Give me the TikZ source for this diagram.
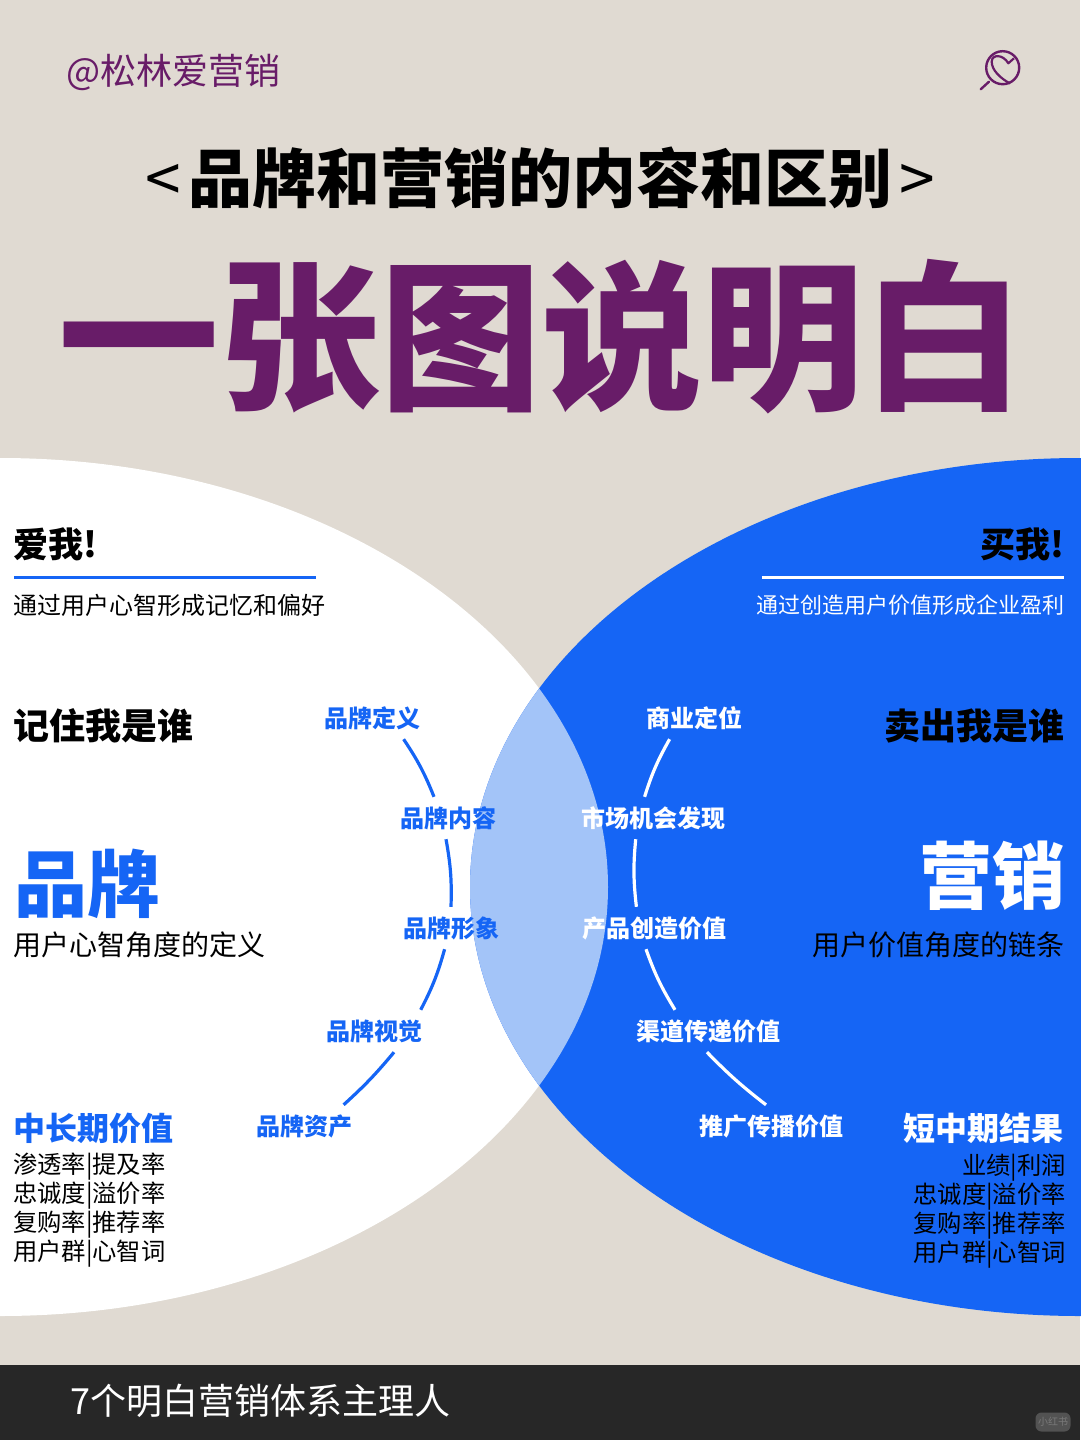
\documentclass[tikz,border=0pt]{standalone}
\usepackage{fontspec}
\setmainfont{Noto Sans CJK SC}
\newfontfamily\heavyfont{Noto Sans CJK SC Black}
\newcommand{\fs}[2][1.15]{\fontsize{#2}{#1\dimexpr #2pt\relax}\selectfont}
\definecolor{paper}{HTML}{E0DAD2}
\definecolor{plum}{HTML}{681C68}
\definecolor{brandblue}{HTML}{1565F5}
\definecolor{paleblue}{HTML}{A3C4F8}
\definecolor{barblack}{HTML}{272727}
\tikzset{
  toleft/.style = {anchor = west, inner sep = 0pt},
  toright/.style = {anchor = east, inner sep = 0pt},
  slogan/.style = {font = \bfseries\fs{35}},
  heading/.style = {font = \bfseries\fs{36}},
  subline/.style = {font = \fs{24}},
  caption/.style = {font = \fs{28}},
  bigword/.style = {font = \bfseries\fs{73}},
  result/.style = {font = \bfseries\fs{32}},
  metrics/.style = {font = \fs[1.19]{24.3}},
  tag/.style = {font = \bfseries\fs{24}, inner sep = 0pt, minimum height = 42pt},
  tagblue/.style = {tag, text = brandblue},
  tagwhite/.style = {tag, text = white},
  linkblue/.style = {draw = brandblue, line width = 3.2pt},
  linkwhite/.style = {draw = white, line width = 3.2pt}
}
\begin{document}
\begin{tikzpicture}[x = 1pt, y = -1pt]
        \useasboundingbox (0, 0) rectangle (1080, 1440);
        \fill[paper] (0, 0) rectangle (1080, 1440);

        % ------------------------------------------------------------------------
        % Header
        \node[toleft, text = plum, font = \fs{36}] at (66, 72) (account) {@松林爱营销};

        \draw[plum, line width = 2.4pt] (1002.7, 67.7) circle (16.5);
        \draw[plum, line width = 2.4pt, line cap = round] (989, 81.7) -- (980.7, 89.3);
        \draw[plum, line width = 2.2pt, line join = round]
          (1014, 58.3) -- (1008.3, 63.3)
          .. controls (1003, 54) and (991.7, 54) .. (991.7, 61.7)
          .. controls (991.7, 70) and (1000, 78) .. (1010, 83.5)
        ;

        \node[font = \bfseries\fs{64}] at (540, 178) (subject) {{\mdseries<}\hspace{7pt}品牌和营销的内容和区别\hspace{7pt}{\mdseries>}};
        \node[text = plum, font = \heavyfont\fs{161}] at (541, 337) (headline) {一张图说明白};

        % ------------------------------------------------------------------------
        % Circles
        \fill[white] (0, 887) ellipse (608 and 429);
        \fill[brandblue] (1080, 887) ellipse (610 and 429);
        \begin{scope}
          \clip (0, 887) ellipse (608 and 429);
          \fill[paleblue] (1080, 887) ellipse (610 and 429);
        \end{scope}

        % ------------------------------------------------------------------------
        % Brand side
        \node[toleft, slogan] at (13, 544) (lovetitle) {爱我!};
        \node[toleft] at (13, 577) (loverulea) {};
        \node[toright] at (317.5, 577) (loveruleb) {};
        \draw[brandblue, line width = 3pt] (loverulea) -- (loveruleb);
        \node[toleft, subline] at (13.5, 605) (lovetext) {通过用户心智形成记忆和偏好};
        \node[toleft, heading] at (13, 726) (remember) {记住我是谁};
        \node[toleft, bigword, text = brandblue] at (14, 884) (brand) {品牌};
        \node[toleft, caption] at (13, 945) (brandtext) {用户心智角度的定义};
        \node[toleft, result, text = brandblue] at (13, 1128) (longterm) {中长期价值};
        \node[toleft, metrics, align = left] at (13, 1210) (brandnums) {渗透率|提及率\\忠诚度|溢价率\\复购率|推荐率\\用户群|心智词};

        \node[tagblue] at (372, 718) (define) {品牌定义};
        \node[tagblue] at (448, 818) (content) {品牌内容};
        \node[tagblue] at (451, 928) (image) {品牌形象};
        \node[tagblue] at (374, 1031) (visual) {品牌视觉};
        \node[tagblue] at (304, 1126) (asset) {品牌资产};

        \draw[linkblue] ([xshift = 31.6pt]define.south) to[bend left = 6] ([xshift = -14pt]content.north);
        \draw[linkblue] ([xshift = -2pt]content.south) to[bend left = 6] (image.north);
        \draw[linkblue] ([xshift = -6.4pt]image.south) to[bend left = 6] ([xshift = 46.7pt]visual.north);
        \draw[linkblue] ([xshift = 20pt]visual.south) to[bend left = 4] ([xshift = 39.6pt]asset.north);

        % ------------------------------------------------------------------------
        % Marketing side
        \node[toright, slogan] at (1065, 544) (buytitle) {买我!};
        \node[toleft] at (760.5, 577) (buyrulea) {};
        \node[toright] at (1065.5, 577) (buyruleb) {};
        \draw[white, line width = 3pt] (buyrulea) -- (buyruleb);
        \node[toright, text = white, font = \fs{22}] at (1065, 605) (buytext) {通过创造用户价值形成企业盈利};
        \node[toright, heading] at (1065, 726) (sellout) {卖出我是谁};
        \node[toright, bigword, text = white] at (1065.5, 876) (market) {营销};
        \node[toright, caption] at (1065, 945) (markettext) {用户价值角度的链条};
        \node[toright, result, text = white] at (1064, 1128) (shortterm) {短中期结果};
        \node[toright, metrics, align = right] at (1066, 1211) (marketnums) {业绩|利润\\忠诚度|溢价率\\复购率|推荐率\\用户群|心智词};

        \node[tagwhite] at (694, 718) (position) {商业定位};
        \node[tagwhite] at (653, 818) (chance) {市场机会发现};
        \node[tagwhite] at (654, 928) (create) {产品创造价值};
        \node[tagwhite] at (708, 1031) (channel) {渠道传递价值};
        \node[tagwhite] at (771, 1126) (promote) {推广传播价值};

        \draw[linkwhite] ([xshift = -24.4pt]position.south) to[bend right = 6] ([xshift = -8.4pt]chance.north);
        \draw[linkwhite] ([xshift = -17.3pt]chance.south) to[bend right = 6] ([xshift = -17.6pt]create.north);
        \draw[linkwhite] ([xshift = -8pt]create.south) to[bend right = 6] ([xshift = -33pt]channel.north);
        \draw[linkwhite] ([xshift = -1pt]channel.south) to[bend right = 4] ([xshift = -5pt]promote.north);

        % ------------------------------------------------------------------------
        % Footer
        \fill[barblack] (0, 1365) rectangle (1080, 1440);
        \node[toleft, text = white, font = \fs{36}] at (70, 1401) (owner) {7个明白营销体系主理人};
        \node[rounded corners = 6pt, fill = white!20!barblack, text = white!38!barblack, font = \fs{10}, minimum width = 35pt, minimum height = 19pt, inner sep = 0pt] at (1053, 1422) (mark) {小红书};
\end{tikzpicture}
\end{document}
